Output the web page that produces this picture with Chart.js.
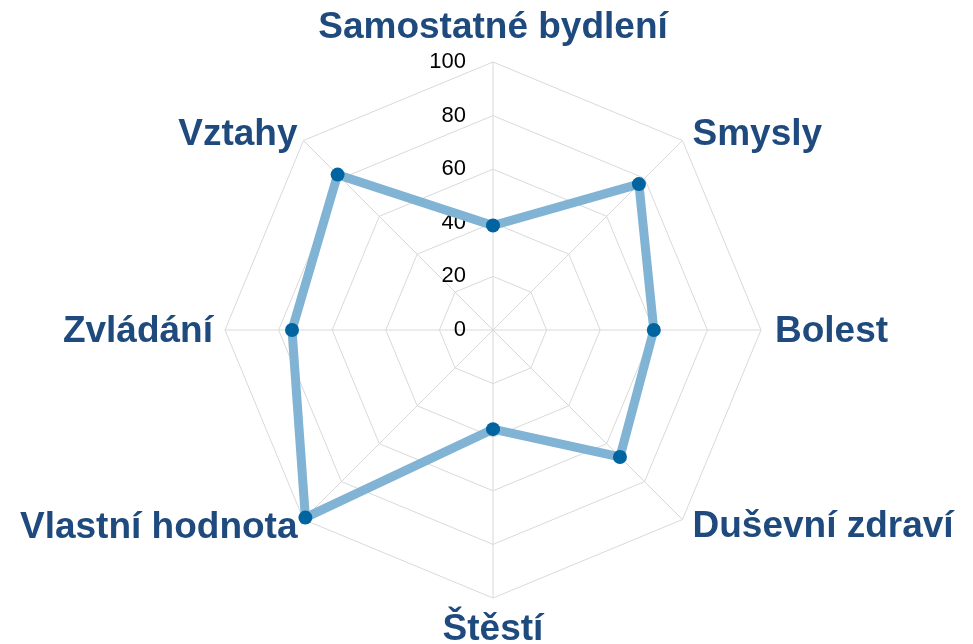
<!DOCTYPE html>
<html>
<head>
<meta charset="utf-8">
<script src="https://cdn.jsdelivr.net/npm/chart.js@4/dist/chart.umd.min.js"></script>
<style>
  html, body { margin: 0; padding: 0; background: #ffffff; overflow: hidden; }
  #wrap { width: 973px; height: 644px; position: relative; }
</style>
</head>
<body>
<div id="wrap"><canvas id="radar"></canvas></div>
<script>
const categories = ['Samostatné bydlení', 'Smysly', 'Bolest', 'Duševní zdraví', 'Štěstí', 'Vlastní hodnota', 'Zvládání', 'Vztahy'];
const scores = [39, 77, 60, 67, 37, 99, 75, 82];
const tickValues = [0, 20, 40, 60, 80, 100];

// where each category name sits relative to the end of its spoke (dx, baseline dy)
const labelNudge = [[0, -24], [10, 5], [14, 12], [10, 17], [0, 42], [-6, 18], [-12, 12], [-6, 5]];

const labelFont = "bold 37px 'Liberation Sans', Arial, sans-serif";
const tickFont = "22px 'Liberation Sans', Arial, sans-serif";

// category names and tick labels drawn from the radial scale positions
const radarText = {
    id: 'radarText',
    beforeDatasetsDraw(chart) {
        const scale = chart.scales.r;
        const ctx = chart.ctx;
        ctx.save();

        ctx.font = tickFont;
        ctx.fillStyle = '#000000';
        ctx.textAlign = 'right';
        ctx.textBaseline = 'middle';
        tickValues.forEach(v => {
            const d = scale.getDistanceFromCenterForValue(v);
            ctx.fillText(String(v), scale.xCenter - 27, scale.yCenter - d);
        });

        ctx.font = labelFont;
        ctx.fillStyle = '#1f4a7e';
        ctx.textBaseline = 'alphabetic';
        chart.data.labels.forEach((text, i) => {
            const p = scale.getPointPosition(i, scale.drawingArea);
            const dx = p.x - scale.xCenter;
            ctx.textAlign = Math.abs(dx) < 1 ? 'center' : (dx > 0 ? 'left' : 'right');
            ctx.fillText(text, p.x + labelNudge[i][0], p.y + labelNudge[i][1]);
        });

        ctx.restore();
    }
};

const ctx = document.getElementById('radar').getContext('2d');

new Chart(ctx, {
    type: 'radar',
    data: {
        labels: categories,
        datasets: [{
            data: scores,
            borderColor: '#80b3d4',
            borderWidth: 9,
            backgroundColor: 'rgba(0,0,0,0)',
            fill: false,
            pointBackgroundColor: '#0064a1',
            pointBorderColor: '#0064a1',
            pointRadius: 7,
            pointBorderWidth: 0,
            pointHoverRadius: 7,
            tension: 0
        }]
    },
    options: {
        responsive: true,
        maintainAspectRatio: false,
        animation: false,
        layout: { padding: { top: 62, bottom: 46, left: 13, right: 0 } },
        plugins: {
            legend: { display: false },
            tooltip: { enabled: false }
        },
        scales: {
            r: {
                min: 0,
                max: 100,
                ticks: {
                    stepSize: 20,
                    display: false
                },
                grid: { color: '#d9d9d9', lineWidth: 1 },
                angleLines: { color: '#d9d9d9', lineWidth: 1 },
                pointLabels: { display: false }
            }
        }
    },
    plugins: [radarText]
});
</script>
</body>
</html>
